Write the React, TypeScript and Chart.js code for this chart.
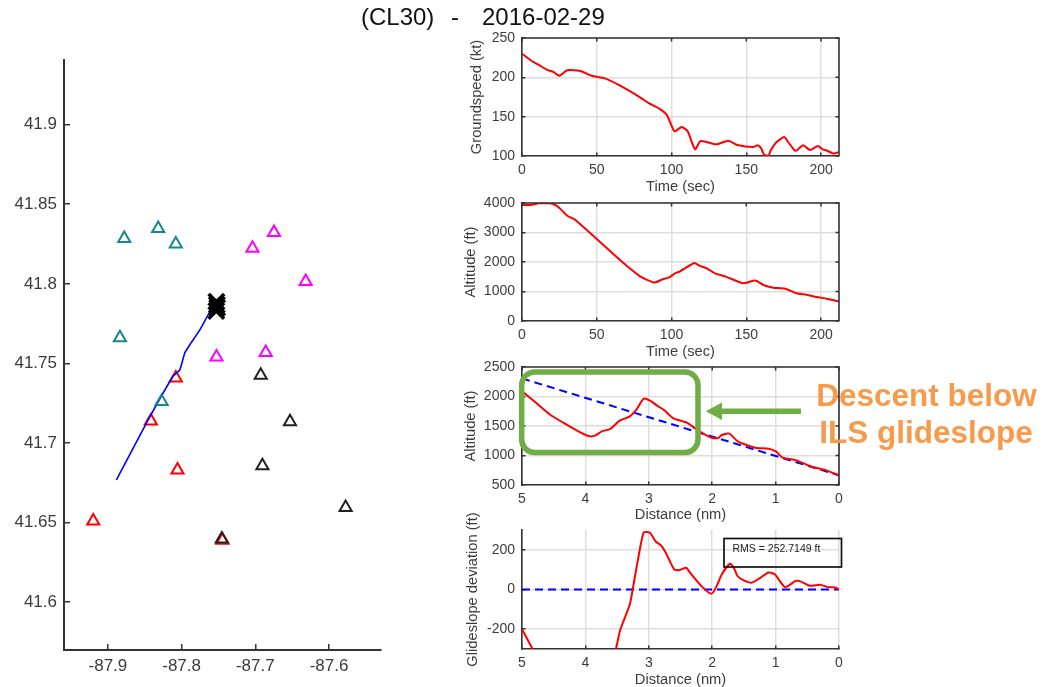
import React, { useEffect, useRef } from "react";
import { Chart, registerables } from "chart.js";

Chart.register(...registerables);

// ---- data ----
const mapXTicks = [-87.9, -87.8, -87.7, -87.6];
const mapYTicks = [41.6, 41.65, 41.7, 41.75, 41.8, 41.85, 41.9];
const trackLon = [-87.8885, -87.8476, -87.8119, -87.8024, -87.7957, -87.7889, -87.7753, -87.7641, -87.7527];
const trackLat = [41.6769, 41.7127, 41.7418, 41.746, 41.7567, 41.7617, 41.7711, 41.7805, 41.7889];
const endLon = [-87.7528, -87.7522, -87.7518, -87.7530];
const endLat = [41.7887, 41.7868, 41.785, 41.783];
const tealLon = [-87.8779, -87.8318, -87.8079, -87.8837, -87.8272];
const tealLat = [41.8285, 41.8347, 41.8251, 41.7661, 41.7261];
const magentaLon = [-87.6747, -87.7039, -87.6317, -87.7527, -87.6859];
const magentaLat = [41.8322, 41.8224, 41.8014, 41.754, 41.7568];
const blackLon = [-87.6927, -87.653, -87.6904, -87.5775, -87.7455];
const blackLat = [41.7426, 41.7133, 41.6857, 41.6595, 41.6398];
const redLon = [-87.8079, -87.8417, -87.8056, -87.9199, -87.7446];
const redLat = [41.7408, 41.7139, 41.683, 41.6511, 41.639];

const timeTicks = [0, 50, 100, 150, 200];
const distTicks = [5, 4, 3, 2, 1, 0];

const speedTime = [0, 6.5, 12, 16.5, 21, 25, 30.3, 39, 46.6, 55.5, 65, 79, 84.5, 92, 97, 102, 106.8, 110.8, 115.7, 119.5, 130, 138, 144, 154.7, 157.6, 159.9, 161.9, 164.8, 166.3, 170.3, 175.3, 178, 182.4, 184, 188, 192.6, 198, 201, 203.8, 207.8, 209.4, 212];
const speedKt = [230, 220.8, 215, 209.7, 207, 202, 209, 208, 202, 198.7, 190, 174.6, 167.4, 160, 151.7, 131.4, 137, 131.4, 108.5, 119, 114.8, 119.5, 114, 111.4, 113.6, 110, 101.7, 100, 107, 117.8, 124, 117.8, 107, 107.5, 113.6, 107.6, 112.7, 108.5, 107, 103.4, 103.4, 105];
const speedTicks = [100, 150, 200, 250];

const altTime = [0, 6.5, 12, 21, 25, 30.3, 35.5, 50, 63.3, 70, 79, 87.8, 90, 93.4, 98.5, 102.3, 105.7, 115.3, 118.6, 123.5, 129.5, 135.8, 147, 150.3, 154.7, 157, 161.4, 168, 176, 183.7, 190.4, 197, 203.8, 212];
const altFt = [3932, 3944, 4000, 3966, 3830, 3570, 3435, 2780, 2170, 1875, 1514, 1310, 1322, 1400, 1480, 1616, 1684, 1966, 1876, 1785, 1605, 1514, 1288, 1300, 1367, 1356, 1220, 1130, 1096, 938, 893, 814, 757, 667];
const altTicks = [0, 1000, 2000, 3000, 4000];

const profileDist = [5, 4.98, 4.77, 4.55, 4.35, 4.14, 3.95, 3.85, 3.74, 3.61, 3.46, 3.3, 3.19, 3.08, 2.98, 2.87, 2.76, 2.61, 2.4, 2.27, 2.14, 2.01, 1.9, 1.85, 1.73, 1.59, 1.32, 1.11, 0.99, 0.89, 0.67, 0.46, 0.19, 0];
const profileFt = [2085, 2070, 1884, 1687, 1557, 1427, 1330, 1336, 1410, 1449, 1590, 1664, 1788, 1963, 1929, 1845, 1771, 1630, 1557, 1460, 1370, 1302, 1297, 1347, 1370, 1235, 1133, 1116, 1065, 963, 918, 822, 743, 664];
const glideDist = [5, 0];
const glideFt = [2306, 664];
const profileTicks = [500, 1000, 1500, 2000, 2500];

const devDist = [5, 4.83, 4.55, 4.14, 3.95, 3.74, 3.61, 3.52, 3.45, 3.3, 3.25, 3.17, 3.08, 2.98, 2.89, 2.8, 2.72, 2.6, 2.51, 2.41, 2.35, 2.17, 2.01, 1.93, 1.85, 1.72, 1.66, 1.6, 1.51, 1.38, 1.24, 1.11, 1.01, 0.85, 0.69, 0.62, 0.46, 0.3, 0.17, 0.06, 0];
const devFt = [-200, -302, -474, -599, -634, -484, -403, -302, -203, -76, 8, 152, 288, 285, 242, 220, 178, 102, 98, 110, 85, 17, -22, 17, 76, 130, 110, 68, 47, 34, 59, 86, 76, 12, 42, 42, 19, 24, 12, 10, 0];
const devZeroDist = [5, 0];
const devZeroFt = [0, 0];
const devTicks = [-200, 0, 200];

// ---- styles ----
const FONT = '"Liberation Sans", Arial, sans-serif';
const INK = "#3c3c3c";
const GRID = "#dedede";
const W = 1044;
const H = 687;
const zip = (xs: number[], ys: number[]) => xs.map((x, i) => ({ x, y: ys[i] }));

const redLine = (data: any[]) => ({ data, showLine: true, borderColor: "#ff0000", borderWidth: 2, pointRadius: 0, tension: 0.2 });
const blueDash = (data: any[]) => ({ data, showLine: true, borderColor: "#0000ff", borderWidth: 2, pointRadius: 0, borderDash: [8, 5] });
const tri = (data: any[], color: string) => ({
  data, showLine: false, pointStyle: "triangle", pointRadius: 7, pointHoverRadius: 7,
  pointBorderColor: color, pointBackgroundColor: "transparent", pointBorderWidth: 2,
});

type Box = { L: number; R: number; T: number; B: number };

function scaleOpts(o: {
  axis: "x" | "y"; min: number; max: number; ticks: number[]; title?: string; reverse?: boolean;
  size: number; tickFont: number; titleFont: number; tickLen: number; pad: number; grid: boolean; borderW: number;
}) {
  return {
    type: "linear",
    position: o.axis === "x" ? "bottom" : "left",
    min: o.min, max: o.max, reverse: !!o.reverse,
    afterBuildTicks: (s: any) => { s.ticks = o.ticks.map((value) => ({ value })); },
    afterFit: (s: any) => {
      if (o.axis === "x") s.height = o.size; else s.width = o.size;
    },
    grid: {
      display: true, drawOnChartArea: o.grid, drawTicks: true, color: GRID, lineWidth: 1.5,
      tickColor: "#333333", tickLength: -o.tickLen, tickWidth: 1.5,
    },
    border: { display: true, color: "#333333", width: o.borderW },
    ticks: {
      autoSkip: false, maxRotation: 0, minRotation: 0, padding: o.pad + o.tickLen, color: INK,
      font: { family: FONT, size: o.tickFont },
      callback: (v: any) => String(v),
    },
    title: {
      display: !!o.title, text: o.title || "", color: INK, padding: 0,
      font: { family: FONT, size: o.titleFont },
    },
  };
}

const boxPlugin = (xTicks: number[], yTicks: number[], len: number) => ({
  id: "box",
  afterDraw(chart: any) {
    const { ctx, chartArea: a, scales } = chart;
    ctx.save();
    ctx.strokeStyle = "#333333";
    ctx.lineWidth = 1.6;
    ctx.beginPath();
    ctx.moveTo(a.left, a.top); ctx.lineTo(a.right, a.top); ctx.lineTo(a.right, a.bottom);
    ctx.stroke();
    ctx.lineWidth = 1.5;
    ctx.beginPath();
    xTicks.forEach((v) => { const p = scales.x.getPixelForValue(v); ctx.moveTo(p, a.top); ctx.lineTo(p, a.top + len); });
    yTicks.forEach((v) => { const p = scales.y.getPixelForValue(v); ctx.moveTo(a.right, p); ctx.lineTo(a.right - len, p); });
    ctx.stroke();
    ctx.restore();
  },
});

const titlePlugin = {
  id: "pageTitle",
  afterDraw(chart: any) {
    const { ctx } = chart;
    ctx.save();
    ctx.font = `24px ${FONT}`;
    ctx.fillStyle = "#111111";
    ctx.textAlign = "left";
    ctx.textBaseline = "middle";
    ctx.fillText("(CL30)", 361, 18);
    ctx.fillText("-", 451, 18);
    ctx.fillText("2016-02-29", 482, 18);
    ctx.restore();
  },
};

const calloutPlugin = {
  id: "callout",
  afterDraw(chart: any) {
    const { ctx, scales } = chart;
    const X = (v: number) => scales.x.getPixelForValue(v);
    const Y = (v: number) => scales.y.getPixelForValue(v);
    ctx.save();
    ctx.strokeStyle = "#70ad47";
    ctx.fillStyle = "#70ad47";
    ctx.lineWidth = 5.5;
    const x0 = X(5.005), x1 = X(2.224), y0 = Y(2415), y1 = Y(1051);
    ctx.beginPath();
    ctx.roundRect(x0, y0, x1 - x0, y1 - y0, 13);
    ctx.stroke();
    const ay = Y(1749);
    ctx.fillRect(X(1.845), ay - 2.8, X(0.6) - X(1.845), 5.6);
    ctx.beginPath();
    ctx.moveTo(X(2.103), ay);
    ctx.lineTo(X(1.845), ay - 8.7);
    ctx.lineTo(X(1.845), ay + 8.7);
    ctx.closePath();
    ctx.fill();
    ctx.font = `bold 31.5px ${FONT}`;
    ctx.fillStyle = "#f79a4b";
    ctx.textAlign = "center";
    ctx.textBaseline = "middle";
    ctx.fillText("Descent below", 926.5, 397);
    ctx.fillText("ILS glideslope", 926, 434);
    ctx.restore();
  },
};

const rmsPlugin = {
  id: "rms",
  afterDraw(chart: any) {
    const { ctx } = chart;
    ctx.save();
    ctx.strokeStyle = "#111111";
    ctx.lineWidth = 1.7;
    ctx.strokeRect(724, 538.5, 117.5, 28.5);
    ctx.font = `10.5px ${FONT}`;
    ctx.fillStyle = "#222222";
    ctx.textAlign = "left";
    ctx.textBaseline = "middle";
    ctx.fillText("RMS = 252.7149 ft", 732.5, 549.5);
    ctx.restore();
  },
};

function build(canvas: HTMLCanvasElement, o: {
  box: Box; datasets: any[]; xMin: number; xMax: number; yMin: number; yMax: number;
  xTicks: number[]; yTicks: number[]; xTitle?: string; yTitle?: string; reverse?: boolean;
  xTitleY?: number; yTitleX?: number; tickFont: number; tickLen: number; grid: boolean;
  xPad: number; yPad: number; plugins: any[]; borderW?: number;
}) {
  const { L, R, T, B } = o.box;
  const lineH = 14.7 * 1.2;
  const xSize = o.xTitleY ? o.xTitleY - B + lineH / 2 : 40;
  const ySize = o.yTitleX ? L - o.yTitleX + lineH / 2 : 60;
  const borderW = o.borderW ?? 1.6;
  return new Chart(canvas, {
    type: "scatter",
    data: { datasets: o.datasets },
    options: {
      animation: false, responsive: false, maintainAspectRatio: false, devicePixelRatio: 1,
      layout: { padding: { left: L - ySize, right: W - R, top: T, bottom: H - B - xSize } },
      plugins: { legend: { display: false }, tooltip: { enabled: false }, title: { display: false } },
      events: [],
      scales: {
        x: scaleOpts({ axis: "x", min: o.xMin, max: o.xMax, ticks: o.xTicks, title: o.xTitle, reverse: o.reverse, size: xSize, tickFont: o.tickFont, titleFont: 14.7, tickLen: o.tickLen, pad: o.xPad, grid: o.grid, borderW }),
        y: scaleOpts({ axis: "y", min: o.yMin, max: o.yMax, ticks: o.yTicks, title: o.yTitle, size: ySize, tickFont: o.tickFont, titleFont: 14.7, tickLen: o.tickLen, pad: o.yPad, grid: o.grid, borderW }),
      },
    } as any,
    plugins: o.plugins,
  } as any);
}

export default function App() {
  const refs = [useRef<HTMLCanvasElement>(null), useRef<HTMLCanvasElement>(null), useRef<HTMLCanvasElement>(null), useRef<HTMLCanvasElement>(null), useRef<HTMLCanvasElement>(null)];

  useEffect(() => {
    const charts = [
      build(refs[0].current!, {
        box: { L: 64, R: 381, T: 60, B: 650 },
        xMin: -87.9596, xMax: -87.5295, yMin: 41.57, yMax: 41.9406,
        xTicks: mapXTicks, yTicks: mapYTicks, tickFont: 17, tickLen: 6, grid: false, xPad: 6, yPad: 7, borderW: 2,
        plugins: [titlePlugin],
        datasets: [
          { data: zip(endLon, endLat), showLine: false, pointStyle: "crossRot", pointRadius: 11, pointBorderColor: "#000000", pointBorderWidth: 3.5 },
          tri(zip(blackLon, blackLat), "#222222"),
          tri(zip(tealLon, tealLat), "#138a8a"),
          { data: zip(trackLon, trackLat), showLine: true, borderColor: "#0000ff", borderWidth: 1.6, pointRadius: 0, tension: 0.1 },
          tri(zip(magentaLon, magentaLat), "#ff00ff"),
          tri(zip(redLon, redLat), "#ff0000"),
        ],
      }),
      build(refs[1].current!, {
        box: { L: 522, R: 839, T: 38, B: 156 },
        xMin: 0, xMax: 212, yMin: 100, yMax: 250, xTicks: timeTicks, yTicks: speedTicks,
        xTitle: "Time (sec)", yTitle: "Groundspeed (kt)", xTitleY: 187, yTitleX: 477,
        tickFont: 14, tickLen: 3.5, grid: true, xPad: 6, yPad: 7,
        plugins: [boxPlugin(timeTicks, speedTicks, 3.5)],
        datasets: [redLine(zip(speedTime, speedKt))],
      }),
      build(refs[2].current!, {
        box: { L: 522, R: 839, T: 203, B: 321 },
        xMin: 0, xMax: 212, yMin: 0, yMax: 4000, xTicks: timeTicks, yTicks: altTicks,
        xTitle: "Time (sec)", yTitle: "Altitude (ft)", xTitleY: 352, yTitleX: 470.7,
        tickFont: 14, tickLen: 3.5, grid: true, xPad: 6, yPad: 7,
        plugins: [boxPlugin(timeTicks, altTicks, 3.5)],
        datasets: [redLine(zip(altTime, altFt))],
      }),
      build(refs[3].current!, {
        box: { L: 522, R: 839, T: 367, B: 485 },
        xMin: 0, xMax: 5, reverse: true, yMin: 500, yMax: 2500, xTicks: distTicks, yTicks: profileTicks,
        xTitle: "Distance (nm)", yTitle: "Altitude (ft)", xTitleY: 515, yTitleX: 470.7,
        tickFont: 14, tickLen: 3.5, grid: true, xPad: 6, yPad: 7,
        plugins: [boxPlugin(distTicks, profileTicks, 3.5), calloutPlugin],
        datasets: [redLine(zip(profileDist, profileFt)), blueDash(zip(glideDist, glideFt))],
      }),
      build(refs[4].current!, {
        box: { L: 522, R: 839, T: 530, B: 649 },
        xMin: 0, xMax: 5, reverse: true, yMin: -300, yMax: 300, xTicks: distTicks, yTicks: devTicks,
        xTitle: "Distance (nm)", yTitle: "Glideslope deviation (ft)", xTitleY: 680, yTitleX: 472.7,
        tickFont: 14, tickLen: 3.5, grid: true, xPad: 6, yPad: 7,
        plugins: [rmsPlugin],
        datasets: [redLine(zip(devDist, devFt)), blueDash(zip(devZeroDist, devZeroFt))],
      }),
    ];
    return () => charts.forEach((c) => c.destroy());
  }, []);

  const style: React.CSSProperties = { position: "absolute", left: 0, top: 0, display: "block" };
  return (
    <div style={{ position: "absolute", left: 0, top: 0, width: W, height: H, background: "#ffffff", overflow: "hidden" }}>
      {refs.map((r, i) => (
        <canvas key={i} ref={r} width={W} height={H} style={{ ...style, width: W, height: H }} />
      ))}
    </div>
  );
}
